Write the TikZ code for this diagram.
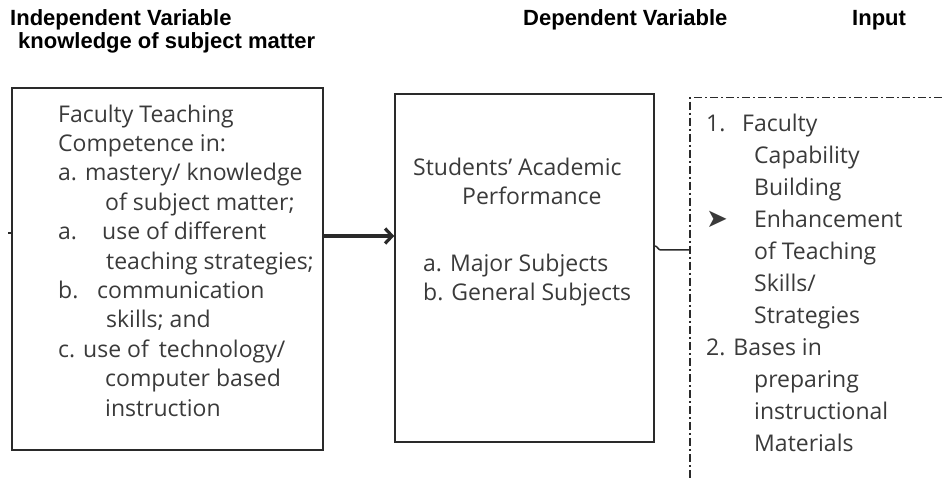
\documentclass[tikz,border=0pt]{standalone}
\usepackage{fontspec}
\setmainfont{Open Sans}
\newfontfamily\headfont{Liberation Sans}
\newfontfamily\dingfont{DejaVu Sans}
\usepackage{xcolor}
\usetikzlibrary{arrows.meta}
\definecolor{BodyText}{HTML}{3A3A3A}
\definecolor{BoxLine}{HTML}{2A2A2A}

\begin{document}
\begin{tikzpicture}[x=1bp, y=-1bp,
		box/.style={draw=BoxLine, line width=1.5bp, rectangle, inner sep=0pt},
		txt/.style={anchor=north west, align=left, inner sep=0pt, text=BodyText, font=\fontsize{23bp}{29.4bp}\selectfont},
		head/.style={anchor=base west, inner sep=0pt, font=\headfont\bfseries\fontsize{22bp}{26bp}\selectfont}]
		\useasboundingbox (0,0) rectangle (942,479);
		\clip (0,0) rectangle (942,479);
		
		% Headings
		\node[head] (indep) at (10,26) {Independent Variable};
		\node[head] (subj) at (18,49) {knowledge of subject matter};
		\node[head] (dep) at (523,26) {Dependent Variable};
		\node[head] (inp) at (852,26) {Input};
		
		% Boxes
		\node[box, minimum width=311bp, minimum height=362bp] (compbox) at (167.5,269) {};
		\node[box, minimum width=259bp, minimum height=348bp] (perfbox) at (524.5,268) {};
		\node[draw=BoxLine, line width=1.5bp, dash pattern=on 8bp off 3bp on 2bp off 3bp, rectangle, inner sep=0pt, anchor=north west, minimum width=300bp, minimum height=420bp] (inputbox) at (689,97) {};
		
		% Box texts
		\node[txt] (comptext) at (58,104.5) {Faculty Teaching\\
			Competence in:\\
			a. mastery/ knowledge\\
			\hspace*{47bp}of subject matter;\\
			\makebox[44bp][l]{a.}use of different\\
			\hspace*{48bp}teaching strategies;\\
			\makebox[39bp][l]{b.}communication\\
			\hspace*{48bp}skills; and\\
			c. use of\hspace{4bp} technology/\\
			\hspace*{47bp}computer based\\
			\hspace*{47bp}instruction};
		\node[txt] (perftitle) at (413,157.5) {Students’ Academic\\
			\hspace*{49bp}Performance};
		\node[txt] (perflist) at (423,253.5) {a. Major Subjects\\
			b. General Subjects};
		\node[txt, font=\fontsize{23bp}{32bp}\selectfont] (inputtext) at (706,113.5) {\makebox[36bp][l]{1.}Faculty\\
			\hspace*{48bp}Capability\\
			\hspace*{48bp}Building\\
			\makebox[48bp][l]{\dingfont\fontsize{26bp}{26bp}\selectfont ➤}Enhancement\\
			\hspace*{48bp}of Teaching\\
			\hspace*{48bp}Skills/\\
			\hspace*{48bp}Strategies\\
			2. Bases in\\
			\hspace*{48bp}preparing\\
			\hspace*{48bp}instructional\\
			\hspace*{48bp}Materials};
		
		% Connectors
		\coordinate (stub) at (8,233);
		\coordinate (arrowlevel) at (0,236);
		\coordinate (kinklevel) at (0,246);
		\coordinate (linklevel) at (0,250);
		\draw[BoxLine, line width=1.5bp] (stub) -- (compbox.west |- stub);
		\draw[-{Straight Barb[length=7bp, width=15bp]}, line width=3.2bp, color=BoxLine] (compbox.east |- arrowlevel) -- (perfbox.west |- arrowlevel);
		\draw[BoxLine, line width=1.5bp] (perfbox.east |- kinklevel) to[out=0, in=180] ++(6,4) -- (inputbox.west |- linklevel);
	\end{tikzpicture}
\end{document}
